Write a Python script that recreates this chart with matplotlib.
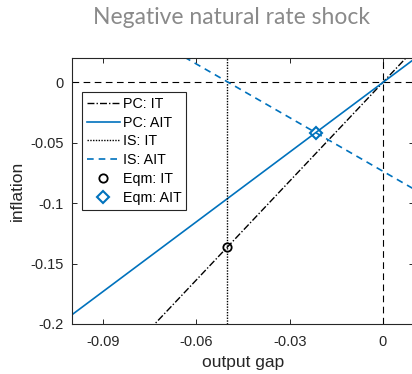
import matplotlib
matplotlib.use("Agg")
import matplotlib.pyplot as plt

BLUE = "#0072BD"

# line endpoints
x_ends = [-0.1, 0.01]
pc_it = [-0.2725, 0.0273]
pc_ait = [-0.1923, 0.0192]
is_ait = [0.0744, -0.0884]
is_it_x = -0.05
y_ends = [-0.2, 0.02]

eqm_it = (-0.05, -0.136)
eqm_ait = (-0.0216, -0.0416)

xticks = [-0.09, -0.06, -0.03, 0]
xtick_labels = ["-0.09", "-0.06", "-0.03", "0"]
yticks = [-0.2, -0.15, -0.1, -0.05, 0]
ytick_labels = ["-0.2", "-0.15", "-0.1", "-0.05", "0"]

plt.rcParams["font.family"] = ["Liberation Sans", "DejaVu Sans"]

fig = plt.figure(figsize=(4.12, 3.74), dpi=100)
ax = fig.add_axes([0.1748, 0.1337, 0.8302, 0.7113])

ax.axhline(0, color="black", lw=0.8, ls=(0, (6, 4)))
ax.axvline(0, color="black", lw=0.8, ls=(0, (6, 4)))

ax.plot(x_ends, pc_it, color="black", lw=1.0, ls=(0, (5, 1.5, 1, 1.5)), label="PC: IT")
ax.plot(x_ends, pc_ait, color=BLUE, lw=1.2, label="PC: AIT")
ax.plot([is_it_x, is_it_x], y_ends, color="black", lw=1.0, ls=(0, (1, 1)), label="IS: IT")
ax.plot(x_ends, is_ait, color=BLUE, lw=1.2, ls=(0, (4, 3)), label="IS: AIT")
ax.plot(*eqm_it, ls="none", marker="o", ms=6, mfc="none", mec="black", mew=1.3, label="Eqm: IT")
ax.plot(*eqm_ait, ls="none", marker="D", ms=6, mfc="none", mec=BLUE, mew=1.5, label="Eqm: AIT")

ax.set_xlim(-0.1, 0.01)
ax.set_ylim(-0.2, 0.0202)
ax.set_xticks(xticks)
ax.set_xticklabels(xtick_labels)
ax.set_yticks(yticks)
ax.set_yticklabels(ytick_labels)
ax.tick_params(direction="in", length=3.5, width=0.7, top=True, right=True,
               labelsize=10.5, colors="#262626")
ax.tick_params(axis="x", pad=8)
ax.tick_params(axis="y", pad=6)
for spine in ax.spines.values():
    spine.set_linewidth(0.8)
    spine.set_color("#262626")

ax.set_xlabel("output gap", fontsize=12.5, color="#262626", labelpad=4)
ax.set_ylabel("inflation", fontsize=12.5, color="#262626", labelpad=4)

leg = ax.legend(loc="upper left", bbox_to_anchor=(0.029, 0.872), fontsize=10.3,
                frameon=True, fancybox=False, edgecolor="#262626", framealpha=1,
                handlelength=2.3, handletextpad=0.2, borderpad=0.35,
                labelspacing=0.33, borderaxespad=0)
leg.get_frame().set_linewidth(0.8)

fig.text(0.561, 0.952, "Negative natural rate shock", ha="center", va="center",
         fontsize=16.5, color="#8a8a8a", family=["Lato", "DejaVu Sans"])

fig.savefig("out.png", dpi=100)
